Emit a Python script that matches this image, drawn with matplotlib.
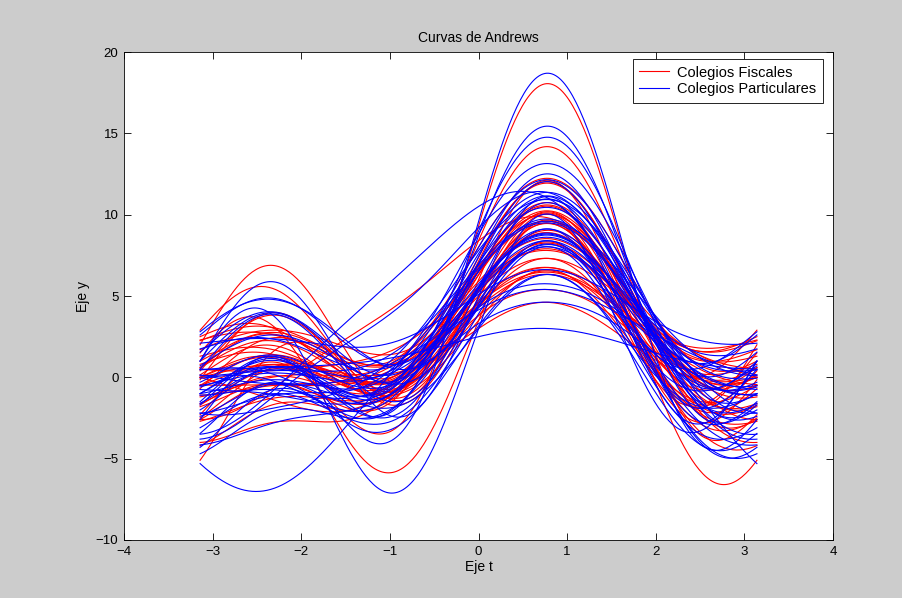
import numpy as np
import matplotlib
matplotlib.use("Agg")
from matplotlib import pyplot as plt

plt.rcParams['font.family'] = ['Liberation Sans', 'DejaVu Sans']

# variables x1..x7 de cada colegio (curvas de Andrews)
# Colegios Fiscales
fis_x1 = [3.89, 2.83, 5.66, 4.95, 2.12, 1.41, 4.95, 2.83, 4.95, 3.54,
          4.24, 0.71, 4.95, 2.83, 4.95, 4.24, 2.83, 3.54, 4.24, 2.83,
          5.66, 1.41, 4.24, 3.54, 4.95, 3.54, 1.41, 4.24, 2.12, 4.24,
          2.83, 4.95, 3.54, 2.12, 4.24, 6.36, 4.95]
fis_x2 = [2.75, 1.8, 1.7, 5.7, 1.2, 2.2, 2.6, 2.3, 2.9, 2.1,
          3.9, 2.6, 1.8, 2.1, 3, 4.8, 2.5, 2.9, 2, 3.6,
          2.2, 2.6, 3.2, 2, 3.6, 1.8, 3.6, 1.6, 3.5, 3.1,
          2.4, 1.9, 3.1, 1.7, 2.6, 3.2, 2]
fis_x3 = [2.75, 5.5, 2, 6, 1.5, 2.5, 1.5, 4, 3.2, 3,
          4.5, 4, 1, 1.5, 3, 5.5, 2, 3.5, 2.5, 2.5,
          2.5, 3.5, 3.5, 2, 3.5, 2.5, 4.5, 1, 1, 4,
          2.5, 1.5, 4, 2, 2, 3.5, 5.5]
fis_x4 = [2.4, 4, 5.5, 6, 1.2, 1.5, 2.5, 3, 1.5, 3.5,
          3, 2, 4, 2, 3, 3.9, 2, 1.5, 4, 1,
          2.5, 2, 2.5, 3, 3.5, 4.5, 1.5, 1.5, 5, 2,
          1, 2, 3, 2.5, 2, 3, 1]
fis_x5 = [0, -1.2, 0, 0, 0, 0, 0.5, -0.5, 0, -0.2,
          -0.1, -0.4, 0.4, 0.3, 0.1, -0.1, 0.3, -0.1, -0.1, 0.5,
          0, -0.2, 0, 0.1, 0.15, -0.15, -0.2, 0.3, 1, -0.2,
          0.05, 0.25, -0.2, 0, 0.3, 0, -0.6]
fis_x6 = [0, -0.4, 0, 0.2, 0, -0.3, 0, 0, 0.2, 0,
          0, -0.3, 0, 0, 0, 0, -0.3, 0, 0, 0,
          0.2, 0, 0, 0, 0, 0, -0.3, 0, 0, 0,
          0, 0, 0, 0, 0, 0, 0]
fis_x7 = [0, 0.4, 0, -0.2, 0, 0.3, 0, 0, -0.2, 0,
          0, 0.3, 0, 0, 0, 0, 0.3, 0, 0, 0,
          -0.2, 0, 0, 0, 0, 0, 0.3, 0, 0, 0,
          0, 0, 0, 0, 0, 0, 0]

# Colegios Particulares
par_x1 = [1.41, 1.41, 4.95, 2.12, 4.95, 5.66, 4.24, 5.66, 4.24, 0.00,
          4.95, 4.95, 1.41, 3.54, 4.95, 2.83, 3.54, 5.66, 2.12, 4.24,
          4.95, 1.41, 4.24, 2.83, 4.95, 3.54, 0.71, 5.66, 3.54, 2.12,
          4.24, 4.95, 2.83, 3.54, 4.24, 1.41, 5.66, 4.95, 0.71]
par_x2 = [5, 3.3, 5.9, 0.7, 4.9, 4.7, 3.2, 1.5, 4.1, 2.3,
          4.2, 1, 3.1, 1.7, 3.1, 3.4, 3.6, 2.4, 1.4, 4,
          2.4, 3.5, 1.7, 2.1, 4.6, 3.5, 2.9, 2.7, 1.7, 2.5,
          3.7, 1.5, 3.2, 2.5, 4.5, 2, 1.5, 2.5, 3.2]
par_x3 = [6.2, 1, 6.2, 1, 5.2, 5, 3.5, 1.5, 5, 3,
          4.5, 1, 4.5, 2, 3.4, 3, 4.5, 2.5, 1.5, 4.5,
          2, 4.8, 2, 2, 5.5, 2.5, 3.5, 3, 2, 2.5,
          4.5, 1.5, 3.5, 3, 3.5, 2, 7, 6.5, 4.5]
par_x4 = [0.3, 6, 6.5, 0.3, 4.8, 3.9, 2, 3, 1.5, 3,
          2.5, 3, 3, 4, 1.5, 1.5, 2.5, 3.5, 1.5, 3.5,
          2, 2, 5.5, 0.5, 2.5, 2, 3, 4, 3, 1,
          3, 1, 4, 2, 2.5, 2.5, 1, 1.5, 2.5]
par_x5 = [-0.3, 1, 0, 0, 0, 0, 0, 0.1, -0.2, -0.15,
          0, 0.1, -0.4, 0, 0, 0.25, -0.2, 0.05, 0, -0.1,
          0.25, -0.35, 0, 0.15, -0.2, 0.45, -0.1, 0, 0, 0.1,
          -0.2, 0.1, 0, -0.1, 0.45, 0, -0.5, -0.8, -0.5]
par_x6 = [0.2, 0, 0.1, 0, 0, 0, 0, 0, 0, -0.3,
          0, 0.2, -0.4, 0, 0, 0, -0.2, 0, -0.3, 0,
          0, 0, 0, 0, 0, 0, 0, 0, 0.2, -0.2,
          -0.3, 0, 0, 0, 0, 0, 0, 0, -0.2]
par_x7 = [-0.2, 0, -0.1, 0, 0, 0, 0, 0, 0, 0.3,
          0, -0.2, 0.4, 0, 0, 0, 0.2, 0, 0.3, 0,
          0, 0, 0, 0, 0, 0, 0, 0, -0.2, 0.2,
          0.3, 0, 0, 0, 0, 0, 0, 0, 0.2]

t = np.linspace(-np.pi, np.pi, 300)

def andrews(x):
    return (x[0] / np.sqrt(2) + x[1] * np.sin(t) + x[2] * np.cos(t)
            + x[3] * np.sin(2 * t) + x[4] * np.cos(2 * t)
            + x[5] * np.sin(3 * t) + x[6] * np.cos(3 * t))

fig = plt.figure(figsize=(9.02, 5.98), dpi=100, facecolor='#cccccc')
ax = fig.add_axes([0.1375, 0.097, 0.786, 0.816])

fis = list(zip(fis_x1, fis_x2, fis_x3, fis_x4, fis_x5, fis_x6, fis_x7))
par = list(zip(par_x1, par_x2, par_x3, par_x4, par_x5, par_x6, par_x7))

for i, x in enumerate(fis):
    ax.plot(t, andrews(x), color='#ff0000', lw=0.8,
            label='Colegios Fiscales' if i == 0 else None)
for i, x in enumerate(par):
    ax.plot(t, andrews(x), color='#0000ff', lw=0.8,
            label='Colegios Particulares' if i == 0 else None)

ax.set_xlim(-4, 4)
ax.set_ylim(-10, 20)
ax.set_xticks(range(-4, 5))
ax.set_yticks(range(-10, 21, 5))
ax.tick_params(direction='in', length=5, width=0.6, labelsize=9.5,
               top=True, right=True, pad=4)
for s in ax.spines.values():
    s.set_linewidth(0.6)
ax.set_title('Curvas de Andrews', fontsize=10, pad=7)
ax.set_xlabel('Eje t', fontsize=10, labelpad=2)
ax.set_ylabel('Eje y', fontsize=10, labelpad=4)

leg = ax.legend(loc='upper right', bbox_to_anchor=(823 / 902, 1 - 59 / 598),
                bbox_transform=fig.transFigure, borderaxespad=0,
                fontsize=10.5, fancybox=False, edgecolor='black', framealpha=1,
                handlelength=2.0, handletextpad=0.6, labelspacing=0.2,
                borderpad=0.45)
leg.get_frame().set_linewidth(0.6)

fig.savefig('out.png', dpi=100, facecolor=fig.get_facecolor())
